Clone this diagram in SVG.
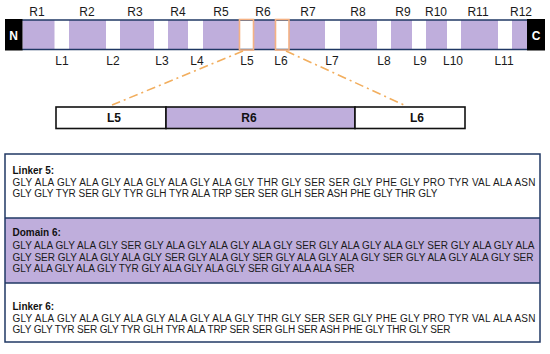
<svg xmlns="http://www.w3.org/2000/svg" width="550" height="354" viewBox="0 0 550 354">
<style>
.rg{fill:#BFAEDC}
.lab{font-family:"Liberation Sans",Arial,sans-serif;font-size:12px;fill:#1a1a1a;text-anchor:middle}
.term{font-family:"Liberation Sans",Arial,sans-serif;font-size:12px;font-weight:bold;fill:#fff;text-anchor:middle}
.bl{font-family:"Liberation Sans",Arial,sans-serif;font-size:12px;font-weight:bold;fill:#111;text-anchor:middle}
.ob{fill:none;stroke:#F4B183;stroke-width:1.6}
.con{stroke:#F2AE5E;stroke-width:1.6;stroke-dasharray:9 4 2 4;fill:none}
.seq{font-family:"Liberation Sans",Arial,sans-serif;font-size:10px;fill:#1a1a1a}
.ttl{font-family:"Liberation Sans",Arial,sans-serif;font-size:10px;font-weight:bold;fill:#111}
.nv{stroke:#203864;stroke-width:1.5}
</style>
<rect width="550" height="354" fill="#fff"/>

<g id="bar">
  <rect x="22" y="20" width="505" height="29.5" fill="#fff"/>
  <g id="R1"><rect class="rg" x="22.5" y="20" width="32" height="29.5"/><text class="lab" x="37" y="16">R1</text></g>
  <g id="R2"><rect class="rg" x="69" y="20" width="37" height="29.5"/><text class="lab" x="87" y="16">R2</text></g>
  <g id="R3"><rect class="rg" x="120" y="20" width="34" height="29.5"/><text class="lab" x="135" y="16">R3</text></g>
  <g id="R4"><rect class="rg" x="168" y="20" width="20" height="29.5"/><text class="lab" x="178" y="16">R4</text></g>
  <g id="R5"><rect class="rg" x="203" y="20" width="36" height="29.5"/><text class="lab" x="221" y="16">R5</text></g>
  <g id="R6"><rect class="rg" x="254" y="20" width="21" height="29.5"/><text class="lab" x="263" y="16">R6</text></g>
  <g id="R7"><rect class="rg" x="289" y="20" width="36" height="29.5"/><text class="lab" x="308" y="16">R7</text></g>
  <g id="R8"><rect class="rg" x="340" y="20" width="37" height="29.5"/><text class="lab" x="358" y="16">R8</text></g>
  <g id="R9"><rect class="rg" x="391" y="20" width="21" height="29.5"/><text class="lab" x="403" y="16">R9</text></g>
  <g id="R10"><rect class="rg" x="426" y="20" width="21" height="29.5"/><text class="lab" x="436" y="16">R10</text></g>
  <g id="R11"><rect class="rg" x="461" y="20" width="37" height="29.5"/><text class="lab" x="478" y="16">R11</text></g>
  <g id="R12"><rect class="rg" x="512" y="20" width="15" height="29.5"/><text class="lab" x="521" y="16">R12</text></g>
  <line class="nv" x1="22" y1="20" x2="527" y2="20"/>
  <line class="nv" x1="22" y1="49.5" x2="527" y2="49.5"/>
  <g id="L1"><text class="lab" x="62" y="65">L1</text></g>
  <g id="L2"><text class="lab" x="113" y="65">L2</text></g>
  <g id="L3"><text class="lab" x="162" y="65">L3</text></g>
  <g id="L4"><text class="lab" x="197" y="65">L4</text></g>
  <g id="L5"><rect class="ob" x="239.5" y="19.5" width="14" height="30.5"/><text class="lab" x="247" y="65">L5</text></g>
  <g id="L6"><rect class="ob" x="275.5" y="19.5" width="13.5" height="30.5"/><text class="lab" x="281" y="65">L6</text></g>
  <g id="L7"><text class="lab" x="332" y="65">L7</text></g>
  <g id="L8"><text class="lab" x="384" y="65">L8</text></g>
  <g id="L9"><text class="lab" x="420" y="65">L9</text></g>
  <g id="L10"><text class="lab" x="453" y="65">L10</text></g>
  <g id="L11"><text class="lab" x="504" y="65">L11</text></g>
  <g id="N"><rect x="5" y="19" width="17.5" height="31.5" fill="#000"/><text class="term" x="13.5" y="39.5">N</text></g>
  <g id="C"><rect x="527" y="19" width="18" height="31.5" fill="#000"/><text class="term" x="536" y="39.5">C</text></g>
</g>

<g id="connectors">
  <line class="con" x1="243" y1="51" x2="112" y2="105"/>
  <line class="con" x1="286" y1="51" x2="404" y2="105"/>
</g>

<g id="zoom">
  <g id="zL5"><rect x="56" y="107" width="110" height="21.5" fill="#fff" stroke="#111" stroke-width="1.6"/><text class="bl" x="114" y="122">L5</text></g>
  <g id="zR6"><rect x="166" y="107" width="189" height="21.5" fill="#BFAEDC" stroke="#111" stroke-width="1.6"/><text class="bl" x="249" y="122">R6</text></g>
  <g id="zL6"><rect x="355" y="107" width="110" height="21.5" fill="#fff" stroke="#111" stroke-width="1.6"/><text class="bl" x="417" y="122">L6</text></g>
</g>

<g id="panel">
  <rect x="5" y="154" width="535" height="188" fill="#fff"/>
  <g id="linker5">
    <text class="ttl" x="12.5" y="173.5">Linker 5:</text>
    <text class="seq" x="12.5" y="185.5" textLength="523">GLY ALA GLY ALA GLY ALA GLY ALA GLY ALA GLY THR GLY SER SER GLY PHE GLY PRO TYR VAL ALA ASN</text>
    <text class="seq" x="12.5" y="196.5" textLength="425">GLY GLY TYR SER GLY TYR GLH TYR ALA TRP SER SER GLH SER ASH PHE GLY THR GLY</text>
  </g>
  <g id="domain6">
    <rect x="5" y="218" width="535" height="65" fill="#BFAEDC"/>
    <text class="ttl" x="12.5" y="236">Domain 6:</text>
    <text class="seq" x="12.5" y="248.5" textLength="522">GLY ALA GLY ALA GLY SER GLY ALA GLY ALA GLY ALA GLY SER GLY ALA GLY ALA GLY SER GLY ALA GLY ALA</text>
    <text class="seq" x="12.5" y="260.5" textLength="521">GLY SER GLY ALA GLY ALA GLY SER GLY ALA GLY SER GLY ALA GLY ALA GLY SER GLY ALA GLY ALA GLY SER</text>
    <text class="seq" x="12.5" y="272" textLength="342">GLY ALA GLY ALA GLY TYR GLY ALA GLY ALA GLY SER GLY ALA ALA SER</text>
  </g>
  <g id="linker6">
    <text class="ttl" x="12.5" y="310">Linker 6:</text>
    <text class="seq" x="12.5" y="321.5" textLength="523">GLY ALA GLY ALA GLY ALA GLY ALA GLY ALA GLY THR GLY SER SER GLY PHE GLY PRO TYR VAL ALA ASN</text>
    <text class="seq" x="12.5" y="333" textLength="438">GLY GLY TYR SER GLY TYR GLH TYR ALA TRP SER SER GLH SER ASH PHE GLY THR GLY SER</text>
  </g>
  <line class="nv" x1="5" y1="218" x2="540" y2="218"/>
  <line class="nv" x1="5" y1="283" x2="540" y2="283"/>
  <rect x="5" y="154" width="535" height="188" fill="none" class="nv"/>
</g>
</svg>
